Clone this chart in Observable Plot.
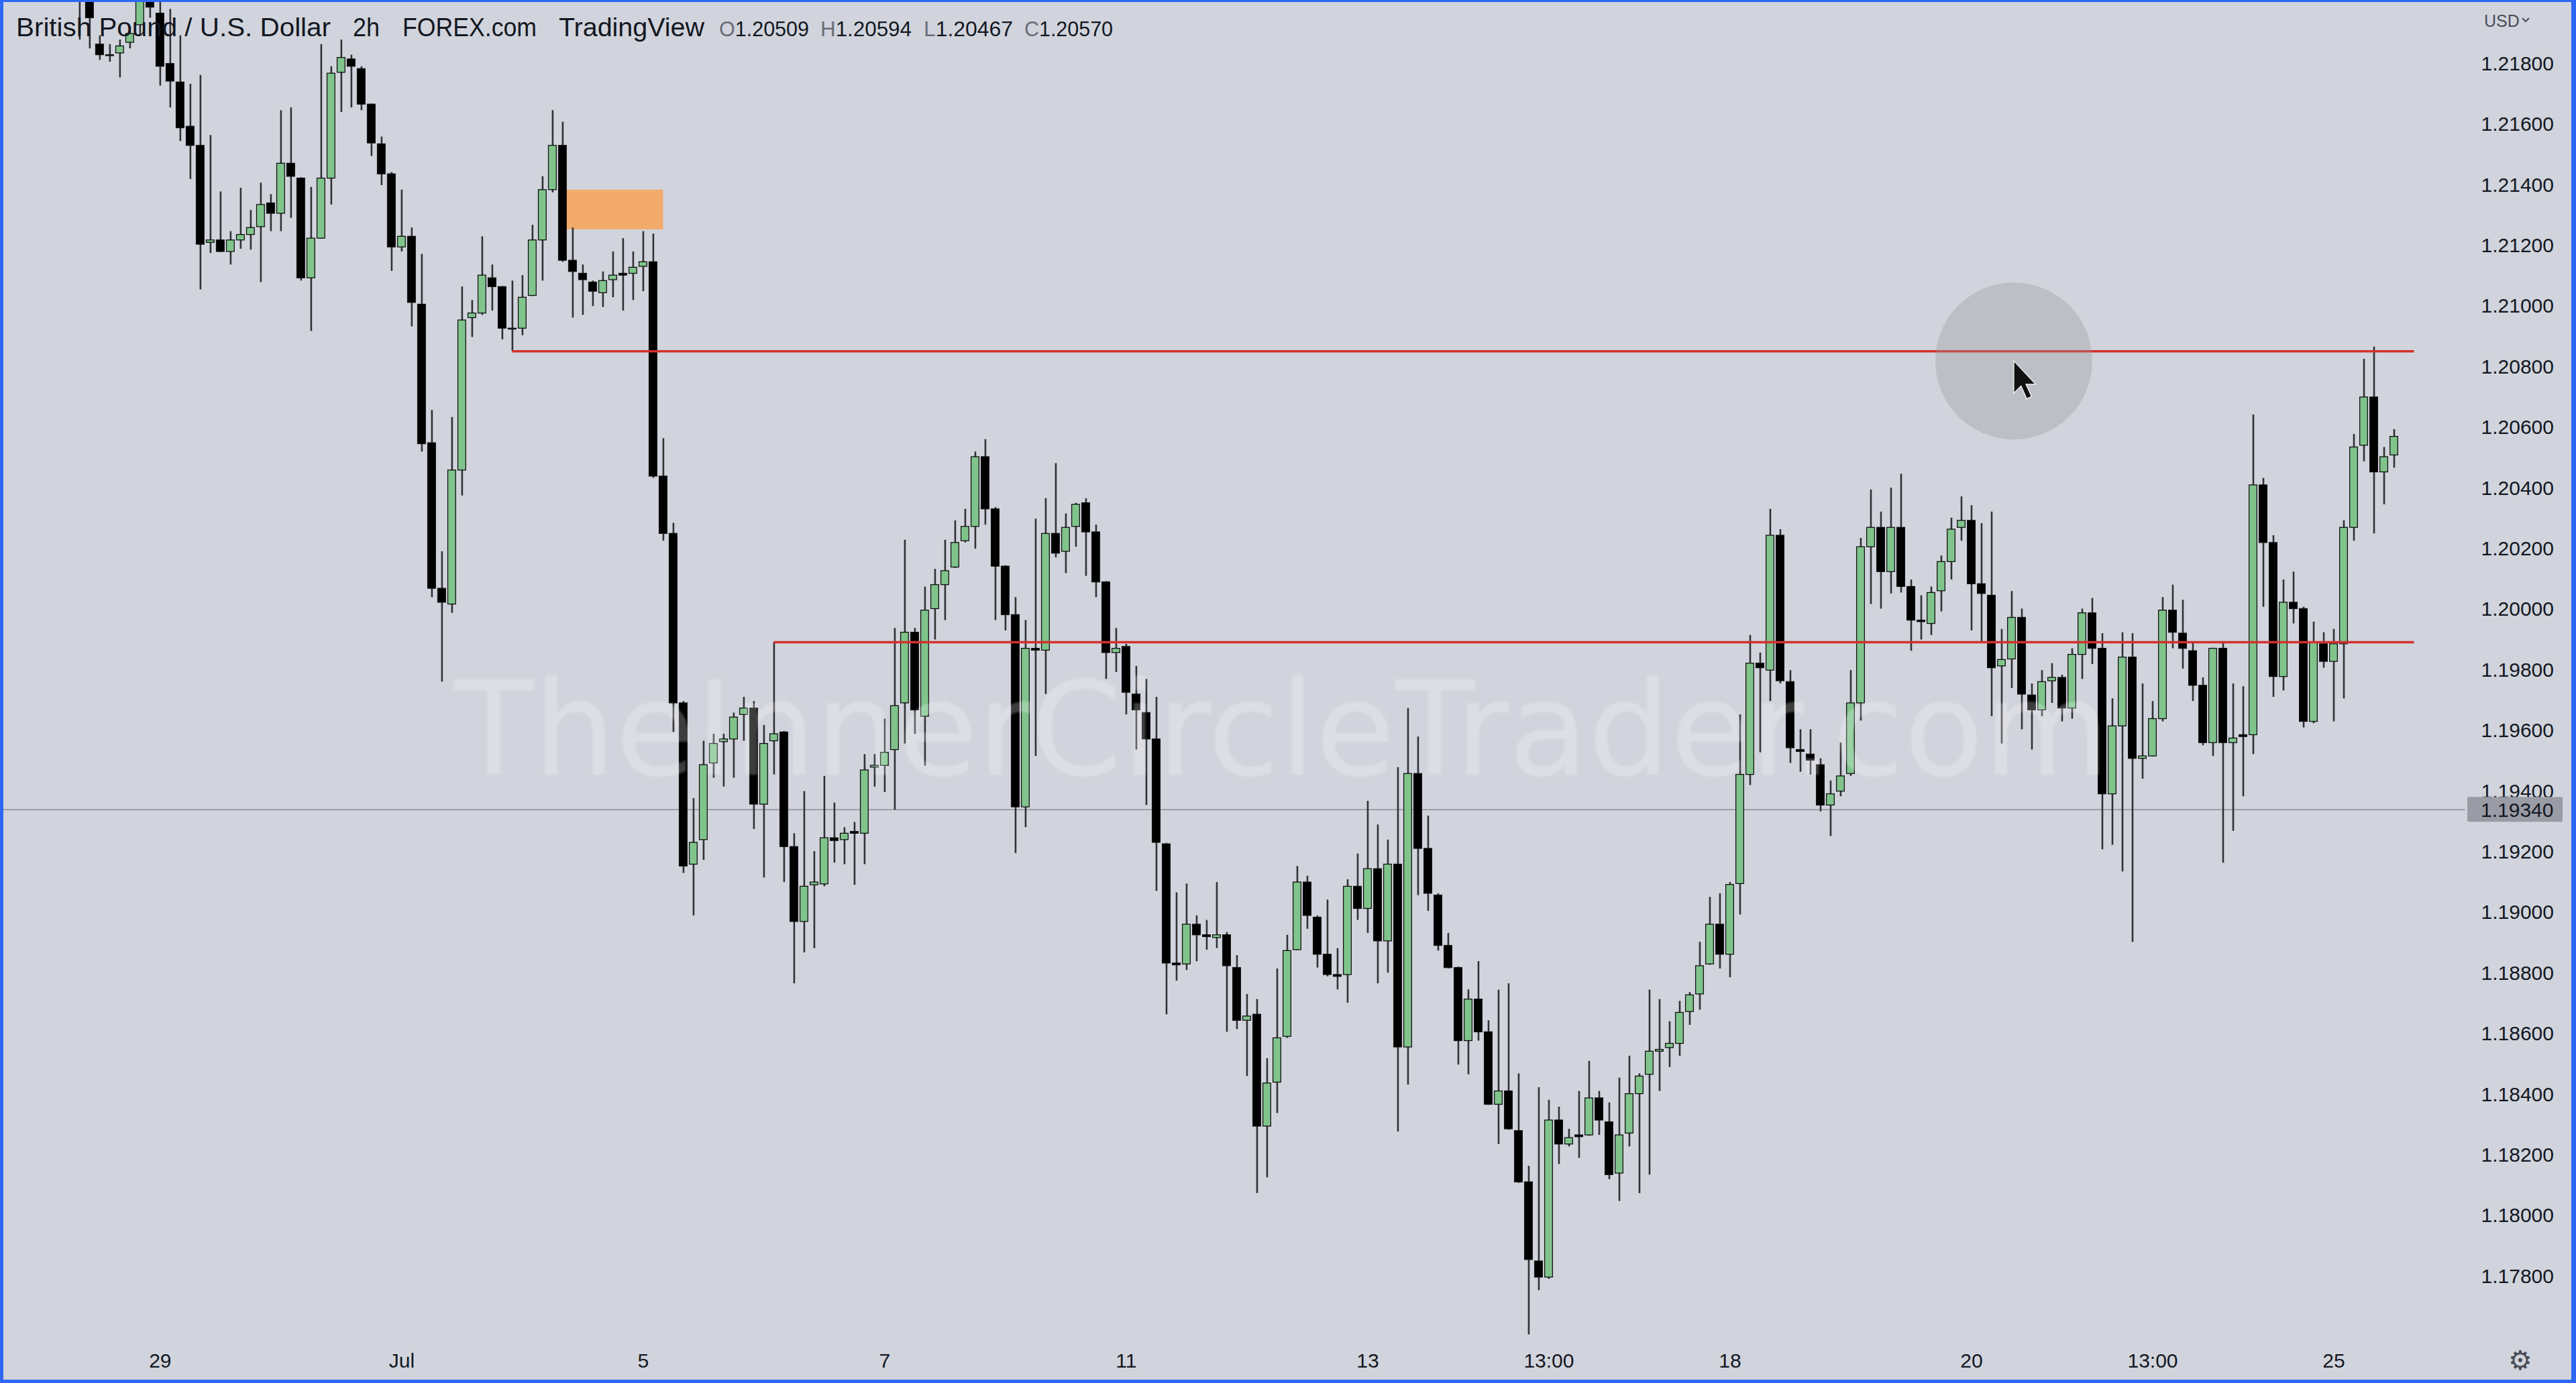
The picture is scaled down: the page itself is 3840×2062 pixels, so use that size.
<!DOCTYPE html>
<html><head><meta charset="utf-8">
<script src="https://cdn.jsdelivr.net/npm/d3@7"></script>
<script src="https://cdn.jsdelivr.net/npm/@observablehq/plot@0.6"></script>
<style>
html,body{margin:0;padding:0;background:#d1d4dc;overflow:hidden;width:3840px;height:2062px}
#wrap{position:relative;width:3840px;height:2062px}
#chart{position:absolute;left:0;top:0}
#chart svg{max-width:none}
#overlay{position:absolute;left:0;top:0;pointer-events:none}
#frame{position:absolute;left:0;top:0;width:3840px;height:2062px;box-sizing:border-box;border-style:solid;border-color:#2f66f5;border-width:3px 7px 5px 5px;pointer-events:none}
</style></head>
<body><div id="wrap"><div id="chart"></div><svg id="overlay" width="3840" height="2062"></svg><div id="frame"></div></div>
<script>
// GBP/USD 2h candles (index 0 = leftmost visible candle)
const open = [
1.2215,1.22025,1.21864,1.21829,1.21835,1.21870,1.21928,1.2203,1.21966,1.21800,
1.21739,1.21593,1.21530,1.21210,1.21218,1.21180,1.21218,1.21236,1.21262,1.21340,
1.21306,1.21471,1.21422,1.21093,1.21224,1.21422,1.21771,1.21815,1.21783,1.21666,
1.21535,1.21436,1.21195,1.21230,1.21006,1.20549,1.20069,1.20017,1.20459,1.20962,
1.20977,1.21093,1.21064,1.20927,1.20927,1.21035,1.21218,1.21384,1.21530,1.21151,
1.21108,1.21079,1.21044,1.21087,1.21108,1.21108,1.21131,1.21146,1.20439,1.20250,
1.19691,1.19159,1.19240,1.19493,1.19563,1.19572,1.19653,1.19674,1.19357,1.19566,
1.19595,1.19217,1.18970,1.19091,1.19094,1.19246,1.19240,1.19267,1.19261,1.19479,
1.19485,1.19537,1.19691,1.19924,1.19647,1.20002,1.20081,1.20139,1.20226,1.20273,
1.20503,1.20331,1.20142,1.19982,1.19348,1.19871,1.19865,1.20250,1.20191,1.20273,
1.20351,1.20255,1.20090,1.19857,1.19877,1.19720,1.19659,1.19572,1.19226,1.18833,
1.18830,1.18961,1.18926,1.18917,1.18926,1.18818,1.18644,1.18664,1.18295,1.18440,
1.18591,1.18877,1.19100,1.18984,1.18862,1.18795,1.18795,1.19086,1.19013,1.19144,
1.18906,1.19159,1.18556,1.19458,1.19211,1.19057,1.18891,1.18818,1.18577,1.18714,
1.18606,1.18367,1.18411,1.18280,1.18111,1.17850,1.17797,1.18315,1.18236,1.18266,
1.18266,1.18388,1.18309,1.18140,1.18272,1.18402,1.18466,1.18542,1.18554,1.18568,
1.18673,1.18731,1.18830,1.18961,1.18862,1.19095,1.19455,1.19822,1.19799,1.20244,
1.19761,1.19537,1.19522,1.19487,1.19354,1.19400,1.19458,1.19691,1.20206,1.20270,
1.20124,1.20270,1.20075,1.19964,1.19953,1.20061,1.20157,1.20270,1.20293,1.20084,
1.20046,1.19813,1.19836,1.19973,1.19717,1.19668,1.19764,1.19775,1.19674,1.19851,
1.19988,1.19871,1.19391,1.19615,1.19842,1.19508,1.19516,1.19639,1.19997,1.19921,
1.19863,1.19749,1.19560,1.19871,1.19560,1.19586,1.19586,1.20410,1.20220,1.19778,
1.20023,1.20002,1.19630,1.19886,1.19828,1.19886,1.20270,1.20541,1.20700,1.20453,
1.20509];
const high = [
1.2218,1.2204,1.21893,1.21864,1.21879,1.21922,1.2205,1.2206,1.2201,1.2198,
1.21893,1.21733,1.21762,1.21564,1.21378,1.21247,1.21390,1.21317,1.21407,1.21369,
1.21646,1.21655,1.21425,1.21393,1.21864,1.21791,1.21879,1.21829,1.21791,1.21668,
1.21559,1.21442,1.21384,1.21259,1.21172,1.20657,1.20191,1.20634,1.21064,1.21020,
1.21230,1.21137,1.21066,1.21084,1.21102,1.21268,1.21428,1.21646,1.21608,1.21259,
1.21137,1.21084,1.21114,1.21180,1.21224,1.21180,1.21247,1.21239,1.20564,1.20285,
1.19697,1.19377,1.19566,1.19589,1.19589,1.19659,1.19711,1.19697,1.19618,1.19892,
1.19598,1.19261,1.19400,1.19202,1.19450,1.19362,1.19281,1.19298,1.19522,1.19522,
1.19639,1.19938,1.20229,1.19938,1.20075,1.20133,1.20229,1.20293,1.20331,1.20520,
1.20561,1.20337,1.20145,1.20040,1.19964,1.20299,1.20366,1.20482,1.20316,1.20351,
1.20366,1.20279,1.20093,1.19938,1.19886,1.19813,1.19770,1.19711,1.19229,1.19066,
1.19095,1.18990,1.18975,1.19100,1.18935,1.18859,1.18731,1.18714,1.18519,1.18815,
1.18926,1.19153,1.19121,1.18990,1.19042,1.18882,1.19109,1.19194,1.19368,1.19290,
1.19240,1.19479,1.19674,1.19580,1.19319,1.19063,1.18932,1.18821,1.18746,1.18839,
1.18644,1.18745,1.18766,1.18469,1.18164,1.18423,1.18382,1.18359,1.18286,1.18411,
1.18510,1.18411,1.18373,1.18455,1.18527,1.18469,1.18745,1.18714,1.18641,1.18708,
1.18737,1.18903,1.19051,1.19063,1.19100,1.19653,1.19915,1.19857,1.20331,1.20264,
1.19799,1.19604,1.19604,1.19508,1.19435,1.19560,1.19799,1.20235,1.20395,1.20322,
1.20401,1.20447,1.20098,1.20046,1.20075,1.20177,1.20302,1.20372,1.20343,1.20284,
1.20322,1.19935,1.20060,1.20002,1.19755,1.19799,1.19822,1.19784,1.19871,1.20002,
1.20037,1.19921,1.19706,1.19924,1.19921,1.19755,1.19697,1.20040,1.20081,1.20031,
1.19892,1.19775,1.19873,1.19892,1.19755,1.19746,1.20642,1.20433,1.20244,1.20098,
1.20124,1.20008,1.19959,1.19924,1.19935,1.20293,1.20578,1.20826,1.20866,1.20535,
1.20594];
const low = [
1.21879,1.21850,1.21812,1.21806,1.21754,1.21850,1.21893,1.21951,1.21727,1.21655,
1.21544,1.21419,1.21055,1.21175,1.21178,1.21137,1.21189,1.21186,1.21079,1.21247,
1.21247,1.21291,1.21084,1.20918,1.21222,1.21335,1.21640,1.21655,1.21646,1.21495,
1.21399,1.21116,1.21180,1.20933,1.20520,1.20040,1.19761,1.19988,1.20375,1.20898,
1.20971,1.20985,1.20890,1.20852,1.20904,1.21033,1.21084,1.21375,1.21146,1.20962,
1.20971,1.21000,1.20997,1.21029,1.20985,1.21020,1.21049,1.20433,1.20226,1.19595,
1.19130,1.18990,1.19173,1.19444,1.19415,1.19444,1.19566,1.19275,1.19115,1.19455,
1.19100,1.18766,1.18868,1.18882,1.19086,1.19164,1.19159,1.19091,1.19159,1.19415,
1.19397,1.19339,1.19557,1.19589,1.19484,1.19900,1.19964,1.20136,1.20220,1.20200,
1.20279,1.19964,1.19930,1.19196,1.19281,1.19516,1.19720,1.20171,1.20119,1.20206,
1.20110,1.20040,1.19770,1.19793,1.19653,1.19537,1.19354,1.19071,1.18664,1.18775,
1.18810,1.18839,1.18877,1.18882,1.18606,1.18615,1.18460,1.18074,1.18126,1.18338,
1.18586,1.18875,1.18946,1.18818,1.18789,1.18746,1.18702,1.18975,1.18932,1.18766,
1.18801,1.18277,1.18432,1.19057,1.19005,1.18874,1.18815,1.18498,1.18466,1.18577,
1.18365,1.18236,1.18283,1.18108,1.17608,1.17754,1.17791,1.18170,1.18228,1.18190,
1.18263,1.18266,1.18120,1.18048,1.18228,1.18074,1.18135,1.18411,1.18490,1.18527,
1.18629,1.18679,1.18827,1.18815,1.18786,1.18993,1.19420,1.19528,1.19697,1.19755,
1.19493,1.19464,1.19455,1.19333,1.19252,1.19383,1.19450,1.19633,1.20017,1.20002,
1.20052,1.20055,1.19863,1.19900,1.19915,1.19993,1.20098,1.20226,1.19930,1.19892,
1.19647,1.19557,1.19740,1.19604,1.19537,1.19647,1.19691,1.19630,1.19639,1.19770,
1.19819,1.19208,1.19223,1.19135,1.18903,1.19441,1.19514,1.19630,1.19871,1.19804,
1.19697,1.19551,1.19516,1.19164,1.19269,1.19383,1.19522,1.20008,1.19711,1.19732,
1.19953,1.19610,1.19624,1.19807,1.19630,1.19706,1.20226,1.20488,1.20250,1.20346,
1.20467];
const close = [
1.2204,1.21951,1.21829,1.21826,1.21858,1.21899,1.2202,1.21986,1.21791,1.21742,
1.21588,1.21530,1.21204,1.21218,1.21180,1.21218,1.21236,1.21259,1.21335,1.21306,
1.21471,1.21428,1.21093,1.21224,1.21422,1.21768,1.21820,1.21791,1.21666,1.21538,
1.21436,1.21195,1.21230,1.21012,1.20546,1.20069,1.20023,1.20459,1.20954,1.20977,
1.21102,1.21064,1.20927,1.20924,1.21029,1.21218,1.21384,1.21530,1.21151,1.21114,
1.21087,1.21049,1.21084,1.21102,1.21102,1.21128,1.21146,1.20439,1.20250,1.19691,
1.19153,1.19231,1.19487,1.19557,1.19572,1.19644,1.19674,1.19357,1.19557,1.19589,
1.19217,1.18970,1.19086,1.19100,1.19246,1.19237,1.19261,1.19261,1.19470,1.19485,
1.19528,1.19682,1.19924,1.19668,1.19997,1.20081,1.20127,1.20220,1.20273,1.20503,
1.20331,1.20142,1.19982,1.19348,1.19871,1.19865,1.20250,1.20185,1.20270,1.20346,
1.20255,1.20090,1.19857,1.19871,1.19726,1.19668,1.19572,1.19231,1.18833,1.18827,
1.18961,1.18926,1.18920,1.18926,1.18824,1.18644,1.18658,1.18295,1.18437,1.18586,
1.18874,1.19100,1.18990,1.18862,1.18795,1.18789,1.19086,1.19013,1.19144,1.18906,
1.19159,1.18556,1.19458,1.19211,1.19063,1.18891,1.18818,1.18577,1.18714,1.18606,
1.18367,1.18411,1.18286,1.18111,1.17855,1.17797,1.18315,1.18236,1.18257,1.18260,
1.18388,1.18315,1.18135,1.18266,1.18402,1.18460,1.18542,1.18548,1.18568,1.18670,
1.18728,1.18824,1.18961,1.18862,1.19092,1.19455,1.19822,1.19807,1.20244,1.19764,
1.19543,1.19531,1.19502,1.19354,1.19391,1.19450,1.19691,1.20206,1.20270,1.20124,
1.20270,1.20075,1.19964,1.19959,1.20055,1.20157,1.20264,1.20293,1.20084,1.20052,
1.19807,1.19834,1.19973,1.19720,1.19668,1.19761,1.19775,1.19674,1.19851,1.19988,
1.19871,1.19391,1.19615,1.19842,1.19508,1.19516,1.19639,1.19997,1.19924,1.19871,
1.19749,1.19560,1.19871,1.19560,1.19575,1.19580,1.20410,1.20220,1.19778,1.20023,
1.20002,1.19630,1.19892,1.19828,1.19886,1.20270,1.20535,1.20700,1.20453,1.20503,
1.20570];

// time-axis labels: candle index where each label sits
const tickIndex  = [8, 32, 56, 80, 104, 128, 146, 164, 188, 206, 224];
const tickLabels = ["29", "Jul", "5", "7", "11", "13", "13:00", "18", "20", "13:00", "25"];
// price-axis ticks
const priceTicks = [1.178,1.180,1.182,1.184,1.186,1.188,1.190,1.192,1.194,1.196,1.198,
                    1.200,1.202,1.204,1.206,1.208,1.210,1.212,1.214,1.216,1.218];
// drawn horizontal levels (start candle, end position)
const levelPrice = [1.20852, 1.19892];
const levelFrom  = [43, 69];
const levelTo    = [232, 232];
// orange zone
const zoneFrom = [48.4], zoneTo = [58], zoneTop = [1.21384], zoneBottom = [1.21253];
// crosshair price marker and cursor highlight
const markerPrice = 1.1934;
const cursorIndex = [192.2], cursorPrice = [1.2082];
const symbolName = "British Pound / U.S. Dollar", interval = "2h", broker = "FOREX.com", platform = "TradingView";
const watermark = "TheInnerCircleTrader.com";

const candles = open.map((o, i) => ({i, open: o, high: high[i], low: low[i], close: close[i]}));
const levels = levelPrice.map((p, k) => ({price: p, from: levelFrom[k], to: levelTo[k]}));
const zones = zoneFrom.map((f, k) => ({from: f, to: zoneTo[k], top: zoneTop[k], bottom: zoneBottom[k]}));
const cursor = cursorIndex.map((c, k) => ({i: c, price: cursorPrice[k]}));

const arrow = {
  draw(ctx) {
    const s = 1.2;
    const pts = [[0,0],[0,40],[9,31],[16,47],[22,44],[15,29],[27,29]];
    ctx.moveTo(pts[0][0]*s, pts[0][1]*s);
    for (let k = 1; k < pts.length; k++) ctx.lineTo(pts[k][0]*s, pts[k][1]*s);
    ctx.closePath();
  }
};

const W = 3840, H = 2062, MR = 165, MB = 64;
const chart = Plot.plot({
  width: W, height: H,
  marginLeft: 0, marginRight: MR, marginTop: 0, marginBottom: MB,
  style: {background: "transparent", fontFamily: "'Liberation Sans', Arial, sans-serif", color: "#131722"},
  x: {type: "linear", domain: [-7.89, 237.1]},
  y: {type: "linear", domain: [1.175892, 1.220095]},
  marks: [
    Plot.ruleY([markerPrice], {stroke: "#8c8f98", strokeWidth: 1.5}),
    Plot.rect(zones, {x1: "from", x2: "to", y1: "bottom", y2: "top", fill: "#f2ab6d"}),
    Plot.ruleX(candles, {x: "i", y1: "low", y2: "high", stroke: "#323236", strokeWidth: 2.6, clip: true}),
    Plot.rect(candles, {
      x1: d => d.i - 0.39, x2: d => d.i + 0.39, y1: "open", y2: "close",
      fill: d => d.close >= d.open ? "#80c48c" : "#000000",
      stroke: "#111111", strokeWidth: 1.3, clip: true
    }),
    Plot.ruleY(levels, {y: "price", x1: "from", x2: "to", stroke: "#d3302c", strokeWidth: 3.5}),
    Plot.dot(cursor, {x: "i", y: "price", r: 117, fill: "#95959c", fillOpacity: 0.33, stroke: null}),
    Plot.dot(cursor, {x: "i", y: "price", symbol: arrow, r: 10, fill: "#111111", stroke: "#ffffff", strokeWidth: 1.2}),
    Plot.axisY({anchor: "right", ticks: priceTicks, tickFormat: d3.format(".5f"), tickSize: 0, tickPadding: 23,
                fontSize: 30, color: "#131722", label: null}),
    Plot.axisX({anchor: "bottom", ticks: tickIndex, tickFormat: d => tickLabels[tickIndex.indexOf(d)],
                tickSize: 0, tickPadding: 19, fontSize: 30, color: "#131722", label: null})
  ]
});
document.getElementById("chart").appendChild(chart);

// overlay: watermark, legend, price label, misc
const ov = d3.select("#overlay");
const defs = ov.append("defs");
defs.append("filter").attr("id", "soft").attr("x", "-5%").attr("y", "-20%").attr("width", "110%").attr("height", "140%")
  .append("feGaussianBlur").attr("stdDeviation", 1.5);
ov.append("text").attr("x", 677).attr("y", 1155)
  .attr("font-family", "'DejaVu Sans', sans-serif").attr("font-size", 195)
  .attr("textLength", 2468).attr("lengthAdjust", "spacingAndGlyphs")
  .attr("filter", "url(#soft)")
  .attr("fill", "#ffffff").attr("fill-opacity", 0.24).text(watermark);

const hdr = ov.append("g").attr("font-family", "'Liberation Sans', Arial, sans-serif").attr("fill", "#131722");
[[symbolName, 24, 469], [interval, 526, 40], [broker, 600, 200], [platform, 833, 217]].forEach(([t, x, w]) => {
  hdr.append("text").attr("x", x).attr("y", 54).attr("font-size", 38)
     .attr("textLength", w).attr("lengthAdjust", "spacingAndGlyphs").text(t);
});
const last = candles[candles.length - 1];
const f5 = d3.format(".5f");
[["O", last.open, 1072, 134], ["H", last.high, 1223, 136], ["L", last.low, 1377, 133], ["C", last.close, 1527, 132]]
  .forEach(([k, v, x, w]) => {
    const t = hdr.append("text").attr("x", x).attr("y", 54).attr("font-size", 31)
      .attr("textLength", w).attr("lengthAdjust", "spacingAndGlyphs");
    t.append("tspan").attr("fill", "#6a6d78").text(k);
    t.append("tspan").text(f5(v));
  });

const yScale = chart.scale("y");
const yPix = yScale.apply(markerPrice);
ov.append("rect").attr("x", 3678).attr("y", yPix - 18.5).attr("width", 142).attr("height", 37)
  .attr("rx", 2).attr("fill", "#9a9ca5");
ov.append("text").attr("x", 3698).attr("y", yPix + 11).attr("font-family", "'Liberation Sans', Arial, sans-serif")
  .attr("font-size", 30).attr("fill", "#131722").text(f5(markerPrice));

ov.append("text").attr("x", 3703).attr("y", 40).attr("font-family", "'Liberation Sans', Arial, sans-serif")
  .attr("font-size", 25).attr("fill", "#4a4d57").text("USD");
ov.append("path").attr("d", "M3760,27 l5,5 l5,-5").attr("fill", "none").attr("stroke", "#4a4d57").attr("stroke-width", 2);
ov.append("text").attr("x", 3757).attr("y", 2042).attr("text-anchor", "middle")
  .attr("font-family", "'DejaVu Sans', sans-serif").attr("font-size", 40).attr("fill", "#4a4d57").text("\u2699");
</script>
</body></html>
